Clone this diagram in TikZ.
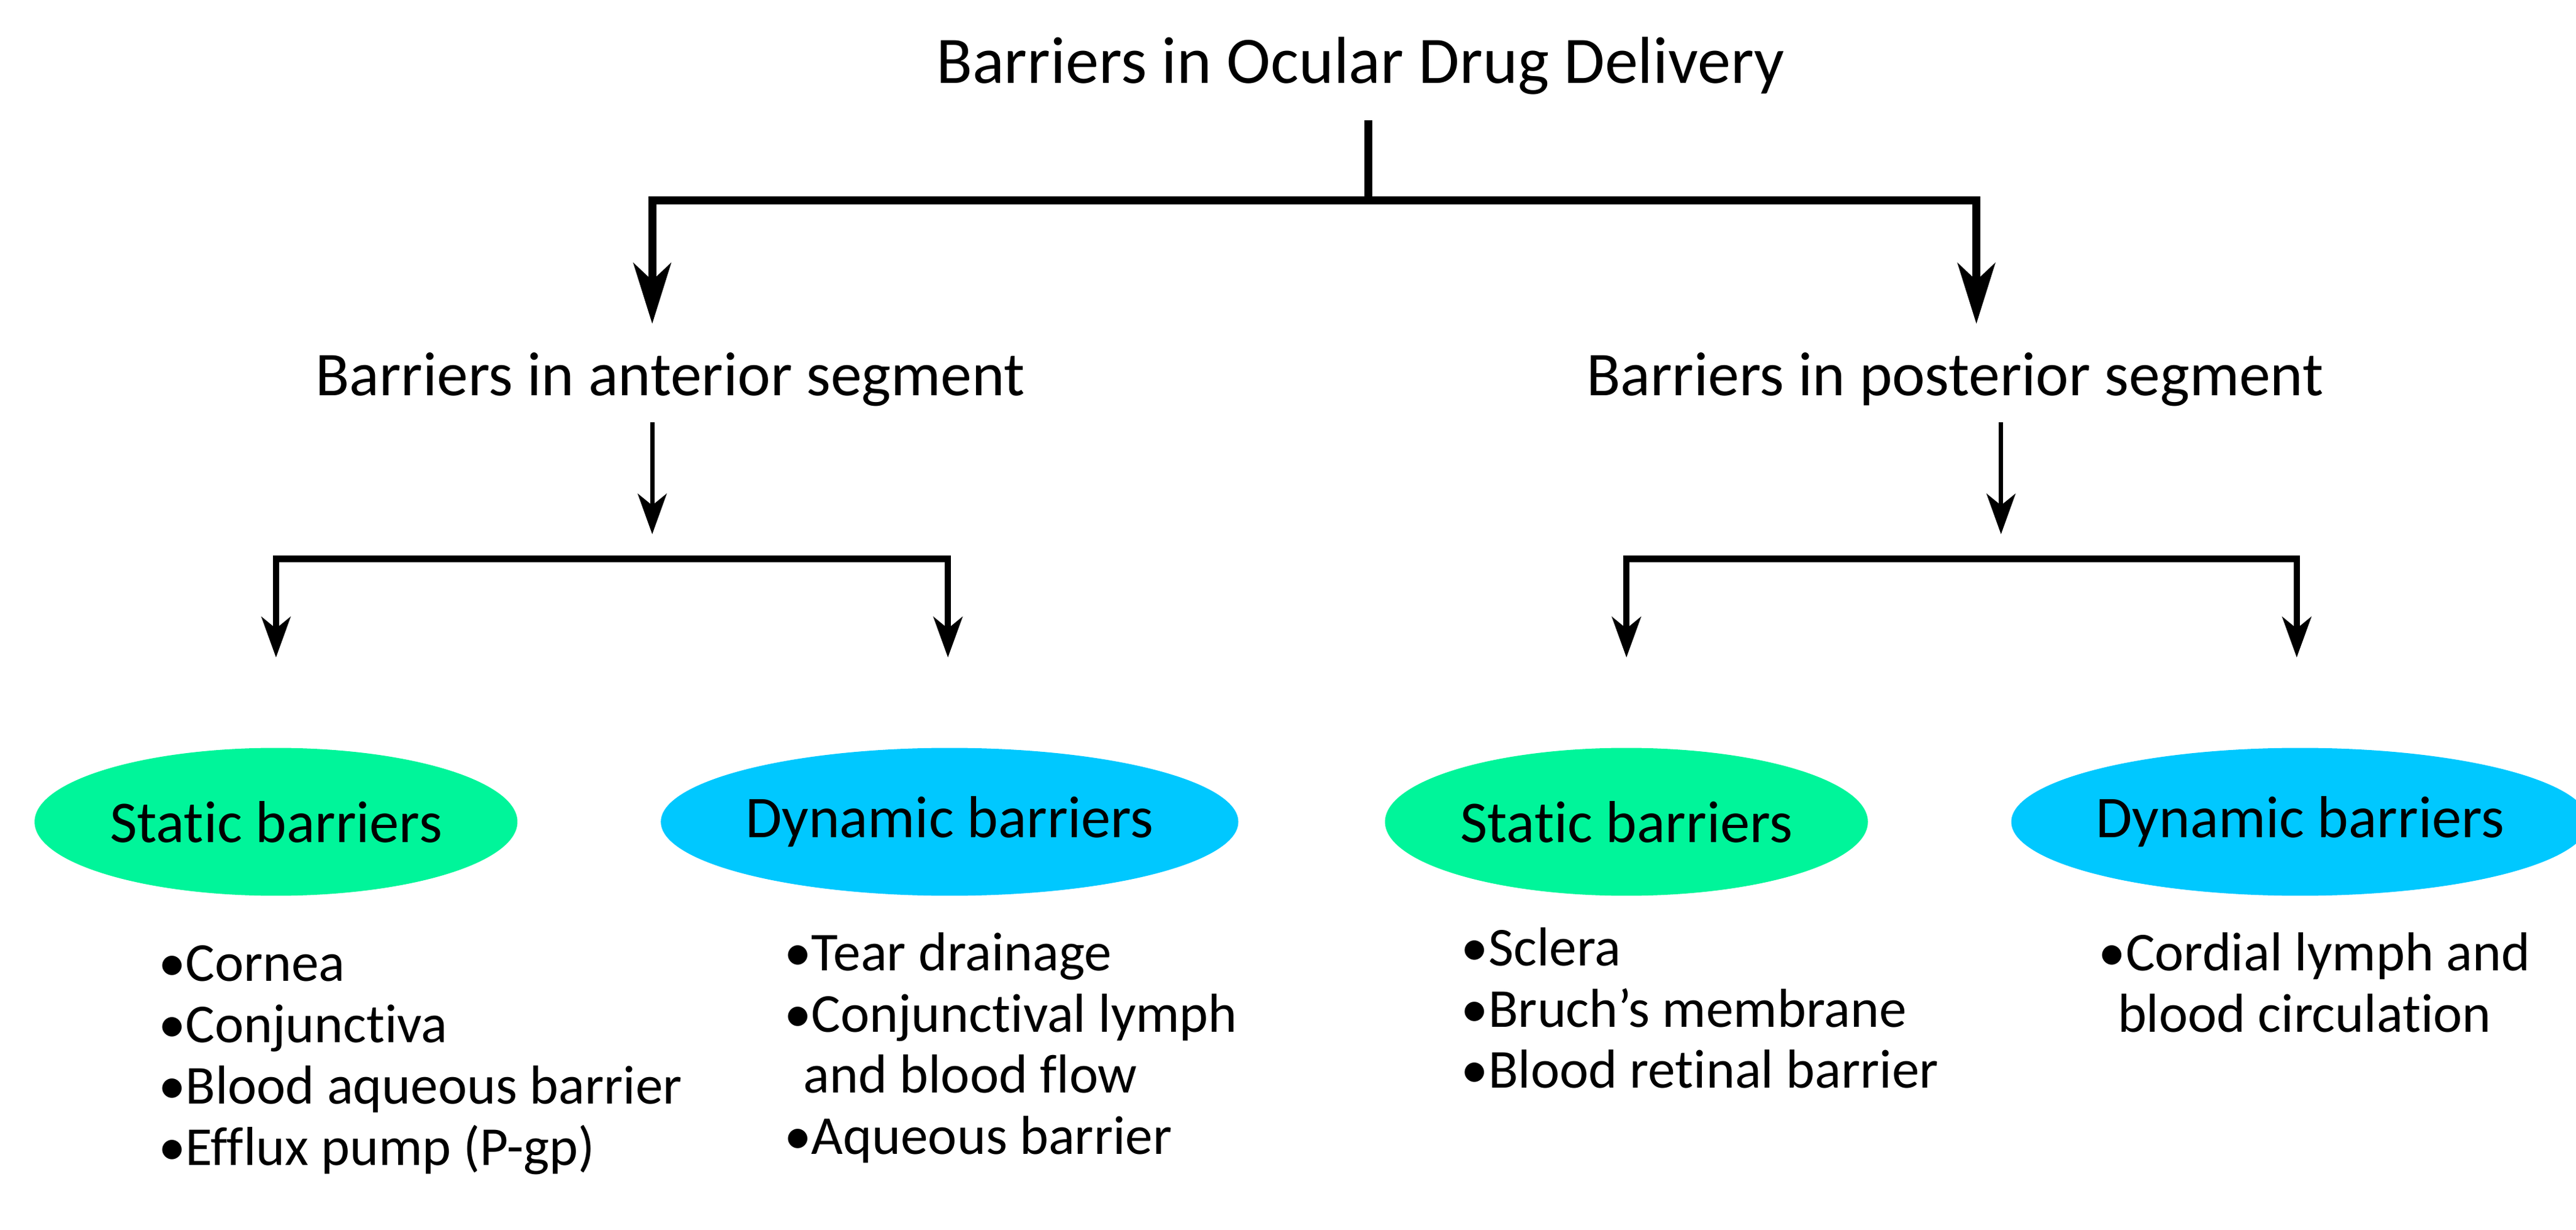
\documentclass[tikz,border=0pt]{standalone}
\usepackage{fontspec}
\setmainfont{Carlito}[Ligatures=NoCommon]
\usetikzlibrary{arrows.meta,shapes.geometric}
\begin{document}
\begin{tikzpicture}[x=0.02cm,y=-0.02cm,
  thickline/.style={line width=2.8pt},
  thinline/.style={line width=1.5pt},
  bigarr/.style={-{Stealth[length=21pt,width=13pt,inset=6pt]}},
  smallarr/.style={-{Stealth[length=14pt,width=10pt,inset=4pt]}},
  lvl/.style={font=\fontsize{21.6}{24}\selectfont, inner sep=0pt},
  ell/.style={ellipse, minimum width=5.88cm, minimum height=1.8cm, inner sep=0pt, font=\fontsize{20.5}{22}\selectfont},
  lst/.style={anchor=north west, align=left, inner sep=0pt, font=\fontsize{19}{21.2}\selectfont}]
\useasboundingbox (0,0) rectangle (1568,748);
\definecolor{sgreen}{HTML}{00F59A}
\definecolor{dcyan}{HTML}{00C8FF}
\node[font=\fontsize{23}{26}\selectfont, inner sep=0pt] (title) at (828,40) {Barriers in Ocular Drug Delivery};
\node[lvl] (ant) at (408,231) {Barriers in anterior segment};
\node[lvl] (post) at (1190,231) {Barriers in posterior segment};
\coordinate (j0) at (833,122);
\coordinate (jl) at (397,122);
\coordinate (jr) at (1203,122);
\coordinate (al) at (397,197);
\coordinate (ar) at (1203,197);
\draw[thickline] (833,73) -- (j0);
\draw[thickline,bigarr] (j0) -- (jl) -- (al);
\draw[thickline,bigarr] (j0) -- (jr) -- (ar);
% left sub
\coordinate (la) at (397,257); \coordinate (lb) at (397,325);
\draw[thinline,smallarr] (la) -- (lb);
\coordinate (lj) at (397,340); \coordinate (l1) at (168,340); \coordinate (l2) at (577,340);
\coordinate (l1e) at (168,400); \coordinate (l2e) at (577,400);
\draw[line width=2.2pt,smallarr] (lj) -- (l1) -- (l1e);
\draw[line width=2.2pt,smallarr] (lj) -- (l2) -- (l2e);
% right sub
\coordinate (ra) at (1218,257); \coordinate (rb) at (1218,325);
\draw[thinline,smallarr] (ra) -- (rb);
\coordinate (rj) at (1218,340); \coordinate (r1) at (990,340); \coordinate (r2) at (1398,340);
\coordinate (r1e) at (990,400); \coordinate (r2e) at (1398,400);
\draw[line width=2.2pt,smallarr] (rj) -- (r1) -- (r1e);
\draw[line width=2.2pt,smallarr] (rj) -- (r2) -- (r2e);
% ellipses
\node[ell,fill=sgreen] (e1) at (168,500) {Static barriers};
\node[ell,fill=dcyan] (e2) at (578,500) {Dynamic barriers};
\node[ell,fill=sgreen] (e3) at (990,500) {Static barriers};
\node[ell,fill=dcyan] (e4) at (1400,500) {Dynamic barriers};
% lists
\node[lst] (t1) at (96,575) {•Cornea\\•Conjunctiva\\•Blood aqueous barrier\\•Efflux pump (P-gp)};
\node[lst] (t2) at (477,567) {•Tear drainage\\•Conjunctival lymph\\\hspace*{0.35em}and blood flow\\•Aqueous barrier};
\node[lst] (t3) at (889,564) {•Sclera\\•Bruch’s membrane\\•Blood retinal barrier};
\node[lst] (t4) at (1277,567) {•Cordial lymph and\\\hspace*{0.35em}blood circulation};
\end{tikzpicture}
\end{document}
